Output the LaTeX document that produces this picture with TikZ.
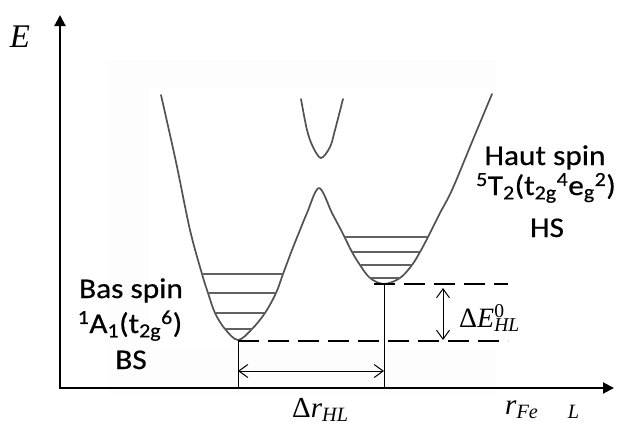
\documentclass[tikz,border=0pt]{standalone}
\usepackage{fontspec}
\newfontfamily\labfont[FakeStretch=1.1,FakeBold=0.6]{Carlito}
\newfontfamily\mfont{Liberation Serif}
\usetikzlibrary{arrows.meta}
\begin{document}
\begin{tikzpicture}[x=1pt,y=-1pt,
  curve/.style={draw=black!68, line width=1.7pt, line join=round, line cap=round},
  level/.style={draw=black!62, line width=1.2pt},
  axis/.style={line width=2pt, line join=miter, {Triangle[length=11pt,width=11pt]}-{Triangle[length=11pt,width=11pt]}},
  dashline/.style={line width=2.2pt, dash pattern=on 21pt off 9pt},
  guide/.style={line width=1pt},
  dimarrow/.style={line width=1pt, {Straight Barb[length=9pt,width=13pt]}-{Straight Barb[length=9pt,width=13pt]}},
  lab/.style={font=\labfont\fontsize{28.5}{32}\selectfont, inner sep=0pt, anchor=base},
  mlab/.style={inner sep=0pt, anchor=base west}]
\useasboundingbox (0,0) rectangle (617,426);
% faint background panels
\fill[black!0.6] (107,60) rectangle (495,393);
\fill[white] (150,87) rectangle (495,347);
% axes
\coordinate (O) at (60,388);
\coordinate (ytop) at (60,15);
\coordinate (xend) at (614,388);
\draw[axis] (ytop) -- (O) -- (xend);
% potential curves
\draw[curve] plot[smooth, tension=0.55] coordinates {
  (161,95) (176,162) (190,230) (202,274) (208,293) (215,313) (225,329) (238,340)
  (252,329) (265,313) (276,293) (283,274) (292,250) (300,230) (307,213) (319,188)
  (332,213) (342,232) (352,252) (360,265) (370,278) (384,284) (400,278) (412,265)
  (420,252) (428,237) (440,213) (452,190) (472,142) (492,94)};
\draw[curve] plot[smooth, tension=0.55] coordinates {
  (301,99) (307,130) (313,147) (321,158) (330,147) (335,130) (343,99)};
% vibrational levels, low spin well
\coordinate (l1a) at (202,274); \coordinate (l1b) at (283,274);
\coordinate (l2a) at (208,293); \coordinate (l2b) at (276,293);
\coordinate (l3a) at (215,313); \coordinate (l3b) at (265,313);
\coordinate (l4a) at (225,329); \coordinate (l4b) at (252,329);
\draw[level] (l1a) -- (l1b) (l2a) -- (l2b) (l3a) -- (l3b) (l4a) -- (l4b);
% vibrational levels, high spin well
\coordinate (h1a) at (345,237); \coordinate (h1b) at (428,237);
\coordinate (h2a) at (352,252); \coordinate (h2b) at (420,252);
\coordinate (h3a) at (360,265); \coordinate (h3b) at (412,265);
\coordinate (h4a) at (370,278); \coordinate (h4b) at (400,278);
\draw[level] (h1a) -- (h1b) (h2a) -- (h2b) (h3a) -- (h3b) (h4a) -- (h4b);
% minima and guides
\coordinate (bsmin) at (238,340);
\coordinate (hsmin) at (384,284);
\draw[guide] (bsmin) -- (bsmin |- O);
\draw[guide] (hsmin) -- (hsmin |- O);
\coordinate (lowstart) at (238,341);
\coordinate (lowend) at (508,341);
\coordinate (upstart) at (374,284);
\coordinate (upend) at (508,284);
\draw[dashline] (lowstart) -- (lowend);
\draw[dashline] (upstart) -- (upend);
% dimension arrows
\coordinate (ra) at (238,371);
\coordinate (rb) at (384,371);
\draw[dimarrow] (ra) -- (rb);
\coordinate (ea) at (443,288);
\coordinate (eb) at (443,340);
\draw[dimarrow] (ea) -- (eb);
% labels
\node[inner sep=0pt, anchor=base, font=\mfont\fontsize{33}{36}\selectfont] (E) at (20,47) {\textit{E}};
\node[mlab, font=\mfont\fontsize{28}{30}\selectfont] (dE) at (459,327) {Δ\textit{E}\rlap{\textsuperscript{0}}\textsubscript{\textit{HL}}};
\node[mlab, font=\mfont\fontsize{29}{32}\selectfont] (dr) at (292,417) {Δ\textit{r}\textsubscript{\textit{HL}}};
\node[mlab, font=\mfont\fontsize{29}{32}\selectfont] (rfe) at (505,414) {\textit{r}\textsubscript{\textit{Fe}\hspace{30pt}\textit{L}}};
\node[lab] (bas1) at (131,298) {Bas spin};
\node[lab] (bas2) at (130,333) {\textsuperscript{1}A\textsubscript{1}(t\textsubscript{2g}\textsuperscript{6})};
\node[lab] (bas3) at (131,369) {BS};
\node[lab] (haut1) at (545,165) {Haut spin};
\node[lab] (haut2) at (546,195) {\textsuperscript{5}T\textsubscript{2}(t\textsubscript{2g}\textsuperscript{4}e\textsubscript{g}\textsuperscript{2})};
\node[lab] (haut3) at (547,237) {HS};
\end{tikzpicture}
\end{document}
